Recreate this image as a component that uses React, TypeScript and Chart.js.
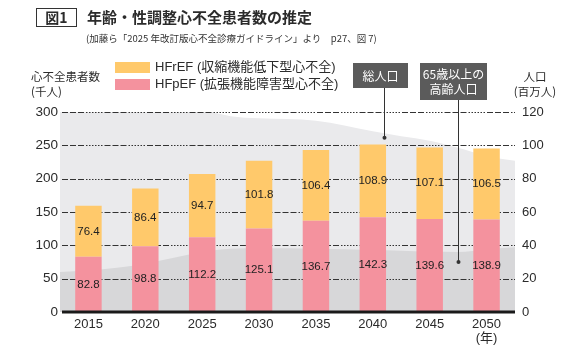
import React, { useEffect, useRef } from "react";
import { Chart, registerables } from "chart.js";

Chart.register(...registerables);

// ---- data ----
const years = ["2015", "2020", "2025", "2030", "2035", "2040", "2045", "2050"];
const hfpef = [82.8, 98.8, 112.2, 125.1, 136.7, 142.3, 139.6, 138.9];
const hfref = [76.4, 86.4, 94.7, 101.8, 106.4, 108.9, 107.1, 106.5];
// background population areas (million people, right axis)
const popYears = [2012.5, 2015, 2017.5, 2020, 2022.5, 2025, 2027.5, 2030, 2035, 2040, 2042.5, 2045, 2047.5, 2050, 2052.5];
const totalPop = [122.5, 122.5, 122.5, 122.3, 122, 121.2, 117.5, 116.2, 114.8, 108.5, 105.5, 102.8, 98.5, 93.5, 90.7];
const elderlyPop = [24, 25, 26.5, 29, 32.5, 36, 38, 38.2, 38, 37.2, 36.8, 36.3, 36, 37.5, 38.8];
// annotation anchor points [year, million]
const totalPopMarker = [2041, 104.5];
const elderlyPopMarker = [2047.5, 30];

const YELLOW = "#FFC96B";
const PINK = "#F4929E";
const LIGHT = "#EAEAEC";
const DARK = "#D7D7D9";
const TXT = "#2b2b2b";
const LAT = '"Liberation Sans", "Noto Sans CJK JP", sans-serif';
const JP = '"Noto Sans CJK JP", sans-serif';

const customPlugin = {
  id: "custom",
  beforeDatasetsDraw(chart: any) {
    chart.$gridDone = false;
  },
  beforeDatasetDraw(chart: any, args: any) {
    if (chart.$gridDone || args.meta.type !== "bar") return;
    chart.$gridDone = true;
    const { ctx, chartArea, scales } = chart;
    const y = scales.y;
    ctx.save();
    ctx.strokeStyle = "#333";
    ctx.lineWidth = 1;
    ctx.setLineDash([6, 2, 6, 2, 6, 2, 1.5, 1.5, 1.5, 1.5, 1.5, 1.5, 1.5, 1.5, 1.5, 1.5, 1.5, 2]);
    y.ticks.forEach((t: any) => {
      if (t.value === 0) return;
      const py = Math.round(y.getPixelForValue(t.value)) + 0.5;
      ctx.beginPath();
      ctx.moveTo(chartArea.left + 2, py);
      ctx.lineTo(chartArea.right, py);
      ctx.stroke();
    });
    ctx.restore();
  },
  afterDatasetsDraw(chart: any) {
    const { ctx, chartArea, scales } = chart;
    ctx.save();
    // baseline
    const by = scales.y.getPixelForValue(0);
    ctx.strokeStyle = "#1a1a1a";
    ctx.lineWidth = 3;
    ctx.beginPath();
    ctx.moveTo(chartArea.left + 2, by);
    ctx.lineTo(chartArea.right, by);
    ctx.stroke();
    // value labels
    ctx.fillStyle = "#222";
    ctx.font = "11.5px " + LAT;
    ctx.textAlign = "center";
    ctx.textBaseline = "middle";
    [0, 1].forEach((di) => {
      const meta = chart.getDatasetMeta(di);
      const vals = chart.data.datasets[di].data;
      meta.data.forEach((el: any, j: number) => {
        const p = el.getProps(["x", "y", "base"], true);
        ctx.fillText(Number(vals[j]).toFixed(1), p.x, (p.y + p.base) / 2);
      });
    });
    // annotation leaders
    const xp = scales.xp;
    const yR = scales.yR;
    const leaders = [
      { pt: totalPopMarker, top: 88 },
      { pt: elderlyPopMarker, top: 100 },
    ];
    ctx.strokeStyle = "#333";
    ctx.fillStyle = "#333";
    ctx.lineWidth = 1;
    leaders.forEach((l) => {
      const x = Math.round(xp.getPixelForValue(l.pt[0])) + 0.5;
      const y = yR.getPixelForValue(l.pt[1]);
      ctx.beginPath();
      ctx.moveTo(x, l.top);
      ctx.lineTo(x, y);
      ctx.stroke();
      ctx.beginPath();
      ctx.arc(x, y, 2, 0, Math.PI * 2);
      ctx.fill();
    });
    ctx.restore();
  },
};

export default function App() {
  const ref = useRef<HTMLCanvasElement>(null);
  useEffect(() => {
    if (!ref.current) return;
    const barCommon = {
      type: "bar",
      stack: "s",
      order: 0,
      xAxisID: "x",
      yAxisID: "y",
      barPercentage: 0.465,
      categoryPercentage: 1,
      grouped: false,
    };
    const chart = new Chart(ref.current, {
      type: "bar",
      data: {
        labels: years,
        datasets: [
          { ...barCommon, label: "HFpEF (拡張機能障害型心不全)", data: hfpef, backgroundColor: PINK },
          { ...barCommon, label: "HFrEF (収縮機能低下型心不全)", data: hfref, backgroundColor: YELLOW },
          {
            type: "line",
            label: "65歳以上の高齢人口",
            data: popYears.map((x, i) => ({ x, y: elderlyPop[i] })),
            xAxisID: "xp",
            yAxisID: "yR",
            fill: "origin",
            backgroundColor: DARK,
            borderWidth: 0,
            pointRadius: 0,
            cubicInterpolationMode: "monotone",
            order: 2,
          },
          {
            type: "line",
            label: "総人口",
            data: popYears.map((x, i) => ({ x, y: totalPop[i] })),
            xAxisID: "xp",
            yAxisID: "yR",
            fill: "origin",
            backgroundColor: LIGHT,
            borderWidth: 0,
            pointRadius: 0,
            cubicInterpolationMode: "monotone",
            order: 3,
          },
        ] as any,
      },
      options: {
        responsive: false,
        animation: false,
        layout: { padding: { top: 112, left: 0, right: 0, bottom: 0 } },
        plugins: { legend: { display: false }, tooltip: { enabled: false } },
        scales: {
          x: {
            type: "category",
            stacked: true,
            offset: true,
            grid: { display: false, drawTicks: false },
            border: { display: false },
            ticks: {
              color: TXT,
              font: { family: LAT, size: 13, lineHeight: 1.05 },
              padding: 6,
              maxRotation: 0,
              autoSkip: false,
              callback: (_v: any, i: number) =>
                i === years.length - 1 ? [years[i], "(年)"] : years[i],
            },
            afterFit: (s: any) => {
              s.height = 42;
            },
          },
          xp: {
            type: "linear",
            display: false,
            offset: false,
            min: 2012.5,
            max: 2052.5,
            grid: { offset: false, display: false },
          },
          y: {
            type: "linear",
            position: "left",
            stacked: true,
            min: 0,
            max: 300,
            grid: { display: false, drawTicks: false },
            border: { display: false },
            ticks: { stepSize: 50, color: TXT, font: { family: LAT, size: 13.5 }, padding: 2 },
            afterFit: (s: any) => {
              s.width = 60;
            },
          },
          yR: {
            type: "linear",
            position: "right",
            min: 0,
            max: 120,
            grid: { display: false, drawTicks: false },
            border: { display: false },
            ticks: { stepSize: 20, color: TXT, font: { family: LAT, size: 13 }, padding: 7 },
            afterFit: (s: any) => {
              s.width = 60;
            },
          },
        } as any,
      },
      plugins: [customPlugin],
    });
    return () => chart.destroy();
  }, []);

  const abs = (s: React.CSSProperties): React.CSSProperties => ({ position: "absolute", ...s });

  return (
    <div style={{ position: "absolute", left: 0, top: 0, width: 575, height: 354, background: "#fff", color: TXT, fontFamily: JP }}>
      <canvas ref={ref} width={575} height={354} style={{ position: "absolute", left: 0, top: 0 }} />
      {/* title */}
      <div style={abs({ left: 36, top: 8, width: 39, height: 17, border: "1.5px solid #333", fontWeight: 700, fontSize: 14, lineHeight: "17px", textAlign: "center", fontFamily: JP })}>図1</div>
      <div style={abs({ left: 87, top: 6, fontWeight: 700, fontSize: 15, lineHeight: "22px", whiteSpace: "nowrap" })}>年齢・性調整心不全患者数の推定</div>
      <div style={abs({ left: 86, top: 31, fontSize: 9.5, lineHeight: "14px", whiteSpace: "nowrap", color: "#333" })}>
        (加藤ら「2025 年改訂版心不全診療ガイドライン」より　p27、図 7)
      </div>
      {/* left axis title */}
      <div style={abs({ left: 31, top: 69, fontSize: 11.5, lineHeight: "15px", whiteSpace: "nowrap" })}>
        心不全患者数
        <br />
        (千人)
      </div>
      {/* right axis title */}
      <div style={abs({ left: 505, top: 69, width: 60, fontSize: 11.5, lineHeight: "15px", textAlign: "center", whiteSpace: "nowrap" })}>
        人口
        <br />
        (百万人)
      </div>
      {/* legend */}
      <div style={abs({ left: 115, top: 62, width: 35, height: 11, background: YELLOW })} />
      <div style={abs({ left: 155, top: 58, fontSize: 13, lineHeight: "18px", whiteSpace: "nowrap", fontFamily: LAT })}>HFrEF (収縮機能低下型心不全)</div>
      <div style={abs({ left: 115, top: 79, width: 35, height: 11, background: PINK })} />
      <div style={abs({ left: 155, top: 75, fontSize: 13, lineHeight: "18px", whiteSpace: "nowrap", fontFamily: LAT })}>HFpEF (拡張機能障害型心不全)</div>
      {/* annotation boxes */}
      <div style={abs({ left: 353, top: 63, width: 55, height: 25, background: "#5b5b5b", color: "#fff", fontSize: 12, lineHeight: "25px", textAlign: "center" })}>総人口</div>
      <div style={abs({ left: 420, top: 63, width: 67, height: 37, background: "#5b5b5b", color: "#fff", fontSize: 12, lineHeight: "15px", paddingTop: 3, boxSizing: "border-box", textAlign: "center", whiteSpace: "nowrap" })}>
        65歳以上の
        <br />
        高齢人口
      </div>
    </div>
  );
}
